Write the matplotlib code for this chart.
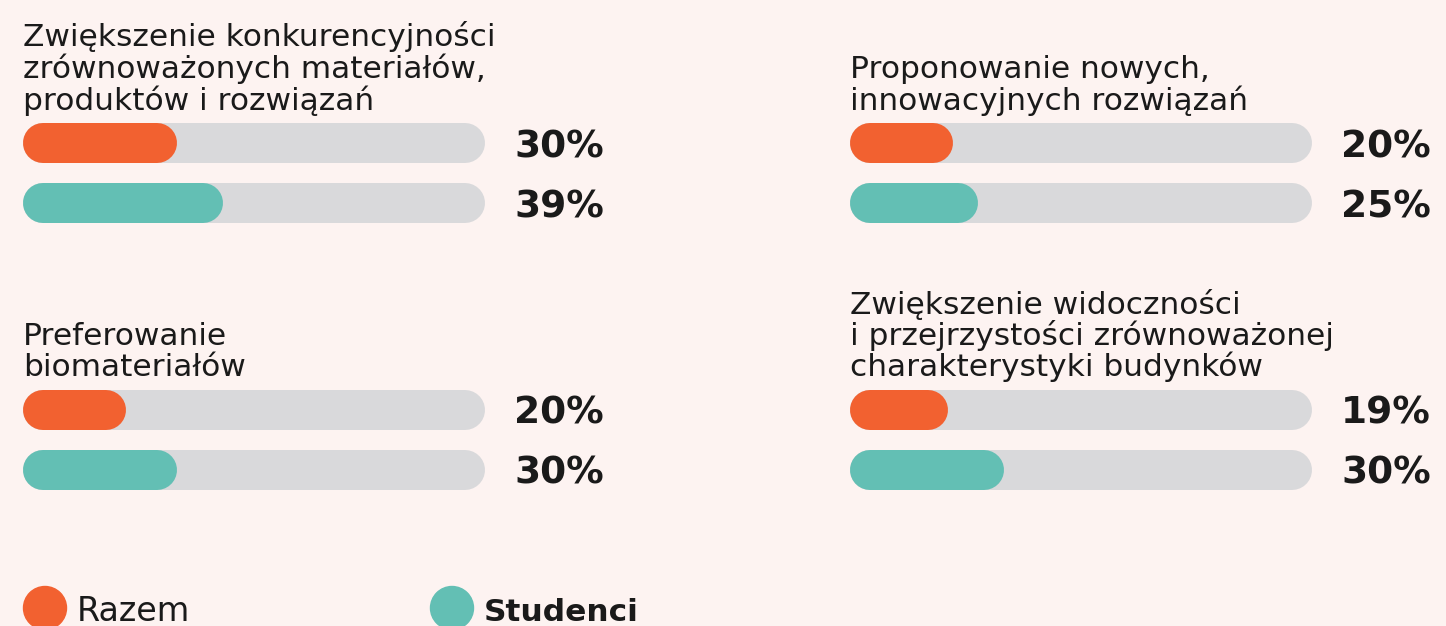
import matplotlib
matplotlib.use('Agg')
from matplotlib import pyplot as plt
from matplotlib.patches import Circle

# survey results, share of answers in percent
titles = [
    ['Zwiększenie konkurencyjności', 'zrównoważonych materiałów,', 'produktów i rozwiązań'],
    ['Proponowanie nowych,', 'innowacyjnych rozwiązań'],
    ['Preferowanie', 'biomateriałów'],
    ['Zwiększenie widoczności', 'i przejrzystości zrównoważonej', 'charakterystyki budynków'],
]
razem = [30, 20, 20, 19]
studenci = [39, 25, 30, 30]
series_names = ['Razem', 'Studenci']

BG = '#fdf3f1'
ORANGE = '#f26130'
TEAL = '#63bfb4'
TRACK = '#d9d9db'
INK = '#1a1a1a'

W, H = 1446, 626
TRACK_MAX = 90          # the grey track spans 0..90 %
TRACK_W = 462           # px
BAR_H = 40              # px
ROW_GAP = 60            # px between the two bars of a panel

# panel origins: left edge of the track, centre of the first bar (px from top)
panels = [(23, 142.5), (850, 142.5), (23, 409.5), (850, 409.5)]

plt.rcParams['font.family'] = ['DejaVu Sans']
fig = plt.figure(figsize=(W / 100, H / 100), dpi=100, facecolor=BG)

overlay = fig.add_axes([0, 0, 1, 1])
overlay.set_xlim(0, W)
overlay.set_ylim(H, 0)
overlay.axis('off')

lw = BAR_H * 72 / 100
cap = (BAR_H / 2) / (TRACK_W / TRACK_MAX)   # round cap radius in percent units

for (x0, yc), lines, r, s in zip(panels, titles, razem, studenci):
    top = yc - ROW_GAP / 2
    ax = fig.add_axes([x0 / W, 1 - (top + 2 * ROW_GAP) / H, TRACK_W / W, 2 * ROW_GAP / H])
    ax.set_xlim(0, TRACK_MAX)
    ax.set_ylim(1.5, -0.5)
    ax.axis('off')
    for row, (val, col) in enumerate([(r, ORANGE), (s, TEAL)]):
        ax.plot([cap, TRACK_MAX - cap], [row, row], color=TRACK, lw=lw,
                solid_capstyle='round', clip_on=False)
        ax.plot([cap, val - cap], [row, row], color=col, lw=lw,
                solid_capstyle='round', clip_on=False)
        ax.text(1.063, row + 14.5 / ROW_GAP, f'{val}%', transform=ax.get_yaxis_transform(),
                ha='left', va='baseline', fontsize=27, fontweight='bold', color=INK)

    # title lines, last baseline sits just above the first bar
    base = yc - BAR_H / 2 - 13
    for i, line in enumerate(lines):
        y = base - (len(lines) - 1 - i) * 31.5
        overlay.text(x0, y, line, ha='left', va='baseline', fontsize=22.5, color=INK)

# legend along the bottom edge
for (cx, col), name, weight, size in zip([(45, ORANGE), (452, TEAL)], series_names,
                                         ['normal', 'bold'], [24, 22.5]):
    overlay.add_patch(Circle((cx, 608), 21.5, color=col, clip_on=False))
    overlay.text(cx + 32, 621, name, ha='left', va='baseline', fontsize=size,
                 fontweight=weight, color=INK)

fig.savefig('out.png', dpi=100, facecolor=BG)
